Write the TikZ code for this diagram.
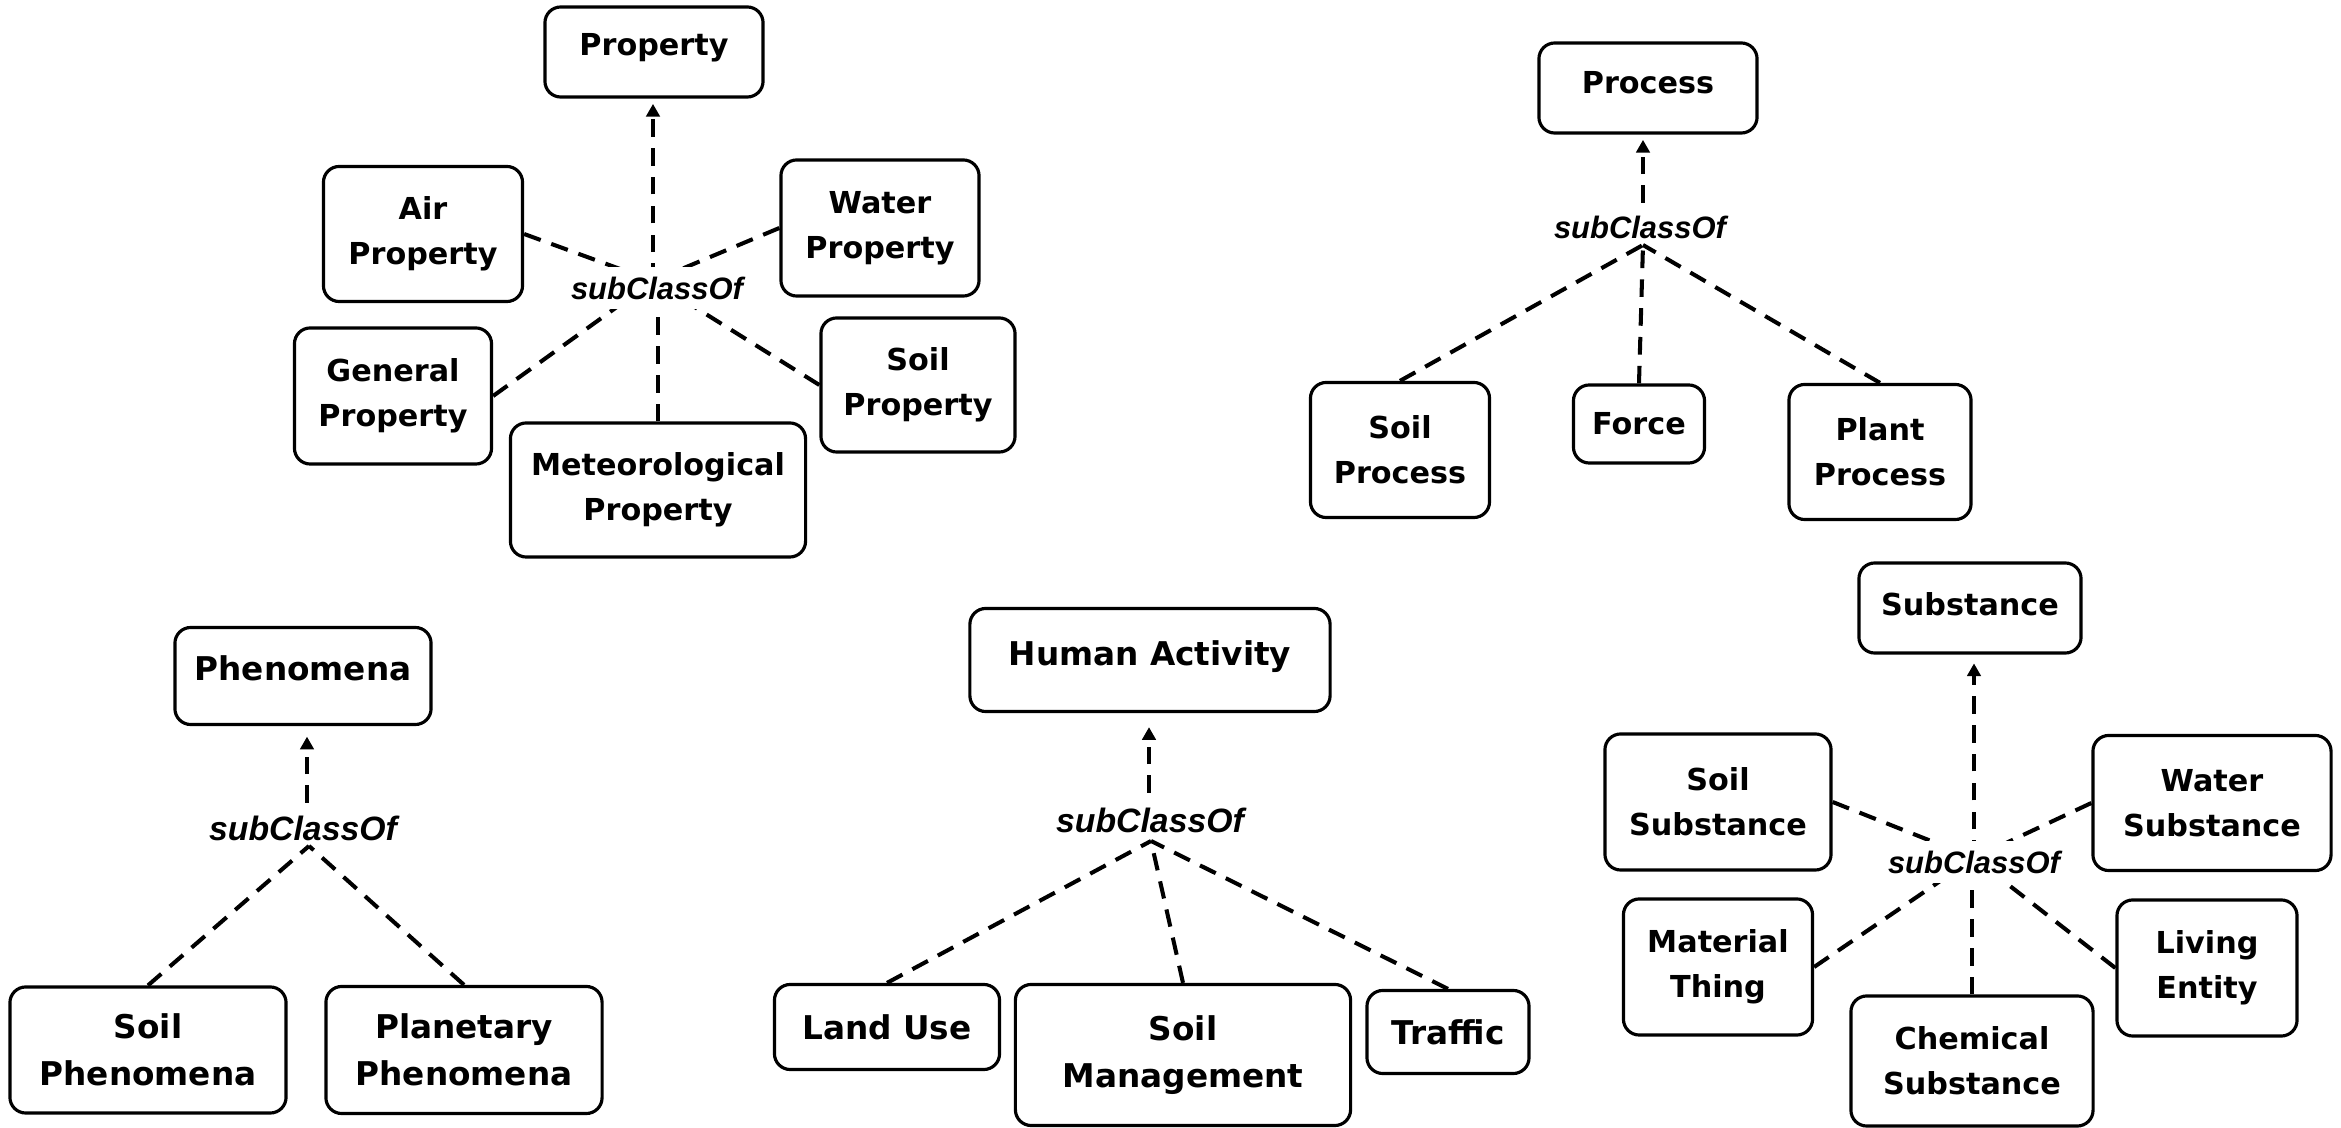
\documentclass[tikz,border=0pt]{standalone}
\usepackage{fontspec}
\newfontfamily\boxfont{DejaVu Sans}
\newfontfamily\labfont{Liberation Sans}
\usetikzlibrary{arrows.meta}
\begin{document}
\begin{tikzpicture}[x=0.01cm,y=-0.01cm,
  box/.style={draw, rounded corners=4.5pt, line width=0.9pt, align=center, inner sep=1pt},
  sm/.style={font=\boxfont\bfseries\fontsize{8.6}{12.8}\selectfont},
  lg/.style={font=\boxfont\bfseries\fontsize{9.3}{13.4}\selectfont},
  dims/.style 2 args={minimum width=#1, minimum height=#2},
  tdep/.style={text depth=#1},
  link/.style={line width=1.15pt, dash pattern=on 5pt off 3.2pt},
  isa/.style={link, -{Triangle[length=3.6pt,width=3.8pt]}},
  lab/.style={fill=white, inner xsep=1pt, inner ysep=2.8pt, font=\labfont\bfseries\itshape\fontsize{8.8}{10}\selectfont},
  labL/.style={inner sep=0pt, font=\labfont\bfseries\itshape\fontsize{9.6}{11}\selectfont},
  labM/.style={inner sep=0pt, font=\labfont\bfseries\itshape\fontsize{8.8}{10}\selectfont}
]
\useasboundingbox (0,0) rectangle (2341,1128);

% ---------- Property group ----------
\node[box,sm,tdep=4.3pt,dims={2.18cm}{0.90cm}] (prop) at (654,52) {Property};
\node[box,sm,dims={1.99cm}{1.35cm}] (airp) at (423,234) {Air\\Property};
\node[box,sm,dims={1.98cm}{1.36cm}] (watp) at (880,228) {Water\\Property};
\node[box,sm,dims={1.97cm}{1.36cm}] (genp) at (393,396) {General\\Property};
\node[box,sm,dims={1.94cm}{1.34cm}] (soilp) at (918,385) {Soil\\Property};
\node[box,sm,dims={2.95cm}{1.34cm}] (metp) at (658,490) {Meteorological\\Property};
\coordinate (hp) at (653,281);
\draw[link] (airp.east) -- (hp);
\draw[link] (watp.west) -- (hp);
\draw[link] (genp.east) -- (hp);
\draw[link] (soilp.west) -- (hp);
\draw[link] (metp.north) -- (metp.north |- hp);
\draw[isa, shorten >=1.5pt] (hp) -- (hp |- prop.south);
\node[lab] (lp) at (657,288) {subClassOf};

% ---------- Process group ----------
\node[box,sm,tdep=3.4pt,dims={2.18cm}{0.90cm}] (proc) at (1648,88) {Process};
\node[box,sm,dims={1.79cm}{1.35cm}] (soilpr) at (1400,450) {Soil\\Process};
\node[box,sm,dims={1.31cm}{0.78cm}] (force) at (1639,424) {Force};
\node[box,sm,dims={1.82cm}{1.35cm}] (plantpr) at (1880,452) {Plant\\Process};
\coordinate (hpr) at (1643,245);
\coordinate (tpr) at (1643,203);
\draw[link] (soilpr.north) -- (hpr);
\draw[link] (force.north) -- (hpr);
\draw[link] (plantpr.north) -- (hpr);
\draw[isa, shorten >=1.5pt] (tpr) -- (tpr |- proc.south);
\node[labM] (lpr) at (1640,227) {subClassOf};

% ---------- Phenomena group ----------
\node[box,lg,tdep=4.5pt,dims={2.56cm}{0.97cm}] (phen) at (303,676) {Phenomena};
\node[box,lg,dims={2.76cm}{1.26cm}] (soilph) at (148,1050) {Soil\\Phenomena};
\node[box,lg,dims={2.76cm}{1.27cm}] (planph) at (464,1050) {Planetary\\Phenomena};
\coordinate (hph) at (309,846);
\coordinate (tph) at (307,803);
\draw[link] (soilph.north) -- (hph);
\draw[link] (planph.north) -- (hph);
\draw[isa, shorten >=3pt] (tph) -- (tph |- phen.south);
\node[labL] (lph) at (303,828) {subClassOf};

% ---------- Human Activity group ----------
\node[box,lg,tdep=3.9pt,dims={3.60cm}{1.03cm}] (hum) at (1150,660) {Human Activity};
\node[box,lg,dims={2.25cm}{0.85cm}] (land) at (887,1027) {Land Use};
\node[box,lg,dims={3.35cm}{1.41cm}] (soilm) at (1183,1055) {Soil\\Management};
\node[box,lg,dims={1.62cm}{0.83cm}] (traf) at (1448,1032) {Traffic};
\coordinate (hha) at (1151,841);
\coordinate (tha) at (1149,793);
\draw[link] (land.north) -- (hha);
\draw[link] (soilm.north) -- (hha);
\draw[link] (traf.north) -- (hha);
\draw[isa, shorten >=4pt] (tha) -- (tha |- hum.south);
\node[labL] (lha) at (1150,820) {subClassOf};

% ---------- Substance group ----------
\node[box,sm,tdep=2.3pt,dims={2.22cm}{0.90cm}] (subs) at (1970,608) {Substance};
\node[box,sm,dims={2.26cm}{1.36cm}] (soils) at (1718,802) {Soil\\Substance};
\node[box,sm,dims={2.38cm}{1.35cm}] (wats) at (2212,803) {Water\\Substance};
\node[box,sm,dims={1.89cm}{1.36cm}] (matt) at (1718,967) {Material\\Thing};
\node[box,sm,dims={1.80cm}{1.36cm}] (live) at (2207,968) {Living\\Entity};
\node[box,sm,dims={2.42cm}{1.30cm}] (chem) at (1972,1061) {Chemical\\Substance};
\coordinate (hs) at (1974,858);
\draw[link] (soils.east) -- (hs);
\draw[link] (wats.west) -- (hs);
\draw[link] (matt.east) -- (hs);
\draw[link] (live.west) -- (hs);
\draw[link] (chem.north) -- (chem.north |- hs);
\draw[isa, shorten >=2.5pt] (hs) -- (hs |- subs.south);
\node[lab] (ls) at (1974,862) {subClassOf};
\end{tikzpicture}
\end{document}
